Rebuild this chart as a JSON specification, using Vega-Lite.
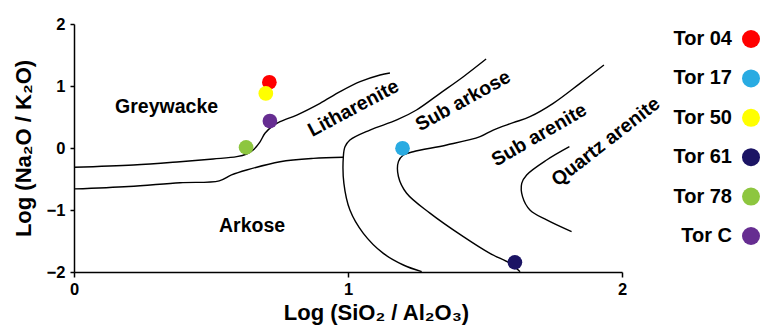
{
  "$schema": "https://vega.github.io/schema/vega-lite/v6.json",
  "width": 548,
  "height": 248,
  "autosize": {"type": "none"},
  "padding": {"left": 74, "top": 24, "right": 146, "bottom": 57},
  "background": "white",
  "config": {
    "view": {"stroke": null},
    "font": "Liberation Sans",
    "axis": {
      "grid": false,
      "domainColor": "black",
      "domainWidth": 1.5,
      "tickColor": "black",
      "tickWidth": 1.5,
      "labelFont": "Liberation Sans",
      "labelFontSize": 16.5,
      "labelFontWeight": "bold",
      "labelColor": "black",
      "labelFlush": false,
      "labelOverlap": false,
      "titleFont": "Liberation Sans",
      "titleFontSize": 22,
      "titleFontWeight": "bold",
      "titleColor": "black"
    }
  },
  "datasets": {
    "samples": [
      {"sample": "Tor 04", "x": 0.713, "y": 1.06},
      {"sample": "Tor 17", "x": 1.199, "y": -0.005},
      {"sample": "Tor 50", "x": 0.70, "y": 0.88},
      {"sample": "Tor 61", "x": 1.609, "y": -1.844},
      {"sample": "Tor 78", "x": 0.628, "y": 0.01},
      {"sample": "Tor C", "x": 0.715, "y": 0.435}
    ],
    "lines": [
      {"line": "A", "i": 0, "x": 0.0, "y": -0.31},
      {"line": "A", "i": 1, "x": 0.217, "y": -0.274},
      {"line": "A", "i": 2, "x": 0.387, "y": -0.221},
      {"line": "A", "i": 3, "x": 0.508, "y": -0.177},
      {"line": "A", "i": 4, "x": 0.594, "y": -0.14},
      {"line": "A", "i": 5, "x": 0.630, "y": -0.097},
      {"line": "A", "i": 6, "x": 0.654, "y": -0.032},
      {"line": "A", "i": 7, "x": 0.679, "y": 0.10},
      {"line": "A", "i": 8, "x": 0.697, "y": 0.237},
      {"line": "A", "i": 9, "x": 0.722, "y": 0.344},
      {"line": "A", "i": 10, "x": 0.752, "y": 0.424},
      {"line": "A", "i": 11, "x": 0.813, "y": 0.532},
      {"line": "A", "i": 12, "x": 0.898, "y": 0.721},
      {"line": "A", "i": 13, "x": 0.971, "y": 0.908},
      {"line": "A", "i": 14, "x": 1.044, "y": 1.069},
      {"line": "A", "i": 15, "x": 1.117, "y": 1.177},
      {"line": "A", "i": 16, "x": 1.153, "y": 1.21},
      {"line": "B", "i": 0, "x": 0.0, "y": -0.66},
      {"line": "B", "i": 1, "x": 0.2, "y": -0.62},
      {"line": "B", "i": 2, "x": 0.387, "y": -0.56},
      {"line": "B", "i": 3, "x": 0.53, "y": -0.53},
      {"line": "B", "i": 4, "x": 0.575, "y": -0.435},
      {"line": "B", "i": 5, "x": 0.63, "y": -0.355},
      {"line": "B", "i": 6, "x": 0.752, "y": -0.221},
      {"line": "B", "i": 7, "x": 0.873, "y": -0.167},
      {"line": "B", "i": 8, "x": 0.983, "y": -0.15},
      {"line": "C", "i": 0, "x": 1.504, "y": 1.435},
      {"line": "C", "i": 1, "x": 1.421, "y": 1.15},
      {"line": "C", "i": 2, "x": 1.336, "y": 0.882},
      {"line": "C", "i": 3, "x": 1.25, "y": 0.613},
      {"line": "C", "i": 4, "x": 1.178, "y": 0.452},
      {"line": "C", "i": 5, "x": 1.08, "y": 0.29},
      {"line": "C", "i": 6, "x": 1.007, "y": 0.129},
      {"line": "C", "i": 7, "x": 0.989, "y": 0.02},
      {"line": "C", "i": 8, "x": 0.983, "y": -0.14},
      {"line": "C", "i": 9, "x": 0.985, "y": -0.57},
      {"line": "C", "i": 10, "x": 1.007, "y": -1.0},
      {"line": "C", "i": 11, "x": 1.056, "y": -1.376},
      {"line": "C", "i": 12, "x": 1.129, "y": -1.70},
      {"line": "C", "i": 13, "x": 1.202, "y": -1.887},
      {"line": "C", "i": 14, "x": 1.269, "y": -1.995},
      {"line": "D", "i": 0, "x": 1.934, "y": 1.339},
      {"line": "D", "i": 1, "x": 1.847, "y": 1.043},
      {"line": "D", "i": 2, "x": 1.749, "y": 0.72},
      {"line": "D", "i": 3, "x": 1.664, "y": 0.505},
      {"line": "D", "i": 4, "x": 1.603, "y": 0.408},
      {"line": "D", "i": 5, "x": 1.53, "y": 0.29},
      {"line": "D", "i": 6, "x": 1.482, "y": 0.183},
      {"line": "D", "i": 7, "x": 1.36, "y": 0.048},
      {"line": "D", "i": 8, "x": 1.238, "y": -0.06},
      {"line": "D", "i": 9, "x": 1.202, "y": -0.113},
      {"line": "D", "i": 10, "x": 1.184, "y": -0.22},
      {"line": "D", "i": 11, "x": 1.184, "y": -0.46},
      {"line": "D", "i": 12, "x": 1.214, "y": -0.73},
      {"line": "D", "i": 13, "x": 1.299, "y": -1.05},
      {"line": "D", "i": 14, "x": 1.421, "y": -1.43},
      {"line": "D", "i": 15, "x": 1.518, "y": -1.70},
      {"line": "D", "i": 16, "x": 1.591, "y": -1.86},
      {"line": "D", "i": 17, "x": 1.628, "y": -1.995},
      {"line": "E", "i": 0, "x": 1.808, "y": 0.021},
      {"line": "E", "i": 1, "x": 1.725, "y": -0.194},
      {"line": "E", "i": 2, "x": 1.652, "y": -0.435},
      {"line": "E", "i": 3, "x": 1.634, "y": -0.57},
      {"line": "E", "i": 4, "x": 1.637, "y": -0.785},
      {"line": "E", "i": 5, "x": 1.664, "y": -1.0},
      {"line": "E", "i": 6, "x": 1.725, "y": -1.161},
      {"line": "E", "i": 7, "x": 1.816, "y": -1.35}
    ],
    "labels": [
      {"label": "Greywacke", "group": "flat", "x": 0.338, "y": 0.66},
      {"label": "Arkose", "group": "flat", "x": 0.65, "y": -1.25},
      {"label": "Litharenite", "group": "litharenite", "x": 1.02, "y": 0.64},
      {"label": "Sub arkose", "group": "subarkose", "x": 1.42, "y": 0.76},
      {"label": "Sub arenite", "group": "subarenite", "x": 1.698, "y": 0.21},
      {"label": "Quartz arenite", "group": "quartz", "x": 1.941, "y": 0.10}
    ]
  },
  "encoding": {
    "x": {
      "field": "x", "type": "quantitative",
      "scale": {"domain": [0, 2], "nice": false},
      "axis": {"title": "Log (SiO₂ / Al₂O₃)", "tickCount": 3, "format": "d", "tickSize": 5, "labelPadding": 4, "titlePadding": 5, "titleX": 302}
    },
    "y": {
      "field": "y", "type": "quantitative",
      "scale": {"domain": [-2, 2], "nice": false},
      "axis": {"title": "Log (Na₂O / K₂O)", "values": [-2, -1, 0, 1, 2], "format": "d", "tickSize": 4, "labelPadding": 5, "titlePadding": 11}
    }
  },
  "layer": [
    {
      "data": {"name": "lines"},
      "mark": {"type": "line", "interpolate": "catmull-rom", "color": "black", "strokeWidth": 1.4},
      "encoding": {
        "detail": {"field": "line", "type": "nominal"},
        "order": {"field": "i", "type": "quantitative"}
      }
    },
    {
      "data": {"name": "labels"},
      "transform": [{"filter": "datum.group === 'flat'"}],
      "mark": {"type": "text", "fontSize": 19.5, "fontWeight": "bold", "color": "black", "align": "center", "baseline": "middle"},
      "encoding": {"text": {"field": "label"}}
    },
    {
      "data": {"name": "labels"},
      "transform": [{"filter": "datum.group === 'litharenite'"}],
      "mark": {"type": "text", "fontSize": 19.5, "fontWeight": "bold", "color": "black", "align": "center", "baseline": "middle", "angle": 332},
      "encoding": {"text": {"field": "label"}}
    },
    {
      "data": {"name": "labels"},
      "transform": [{"filter": "datum.group === 'subarkose'"}],
      "mark": {"type": "text", "fontSize": 19.5, "fontWeight": "bold", "color": "black", "align": "center", "baseline": "middle", "angle": 331},
      "encoding": {"text": {"field": "label"}}
    },
    {
      "data": {"name": "labels"},
      "transform": [{"filter": "datum.group === 'subarenite'"}],
      "mark": {"type": "text", "fontSize": 19.5, "fontWeight": "bold", "color": "black", "align": "center", "baseline": "middle", "angle": 330},
      "encoding": {"text": {"field": "label"}}
    },
    {
      "data": {"name": "labels"},
      "transform": [{"filter": "datum.group === 'quartz'"}],
      "mark": {"type": "text", "fontSize": 19.5, "fontWeight": "bold", "color": "black", "align": "center", "baseline": "middle", "angle": 322},
      "encoding": {"text": {"field": "label"}}
    },
    {
      "data": {"name": "samples"},
      "mark": {"type": "point", "filled": true, "size": 216, "opacity": 1},
      "encoding": {
        "color": {
          "field": "sample", "type": "nominal",
          "scale": {
            "domain": ["Tor 04", "Tor 17", "Tor 50", "Tor 61", "Tor 78", "Tor C"],
            "range": ["#FF0000", "#29ABE2", "#FFFF00", "#1B1464", "#8DC63F", "#662D91"]
          },
          "legend": {
            "title": null, "orient": "none", "legendX": 667, "legendY": 5,
            "labelFont": "Liberation Sans", "labelFontSize": 20, "labelFontWeight": "bold", "labelColor": "black",
            "labelAlign": "right", "labelOffset": -29,
            "symbolSize": 324, "symbolType": "circle", "symbolStrokeWidth": 0, "symbolOpacity": 1,
            "rowPadding": 19.4
          }
        }
      }
    }
  ]
}
